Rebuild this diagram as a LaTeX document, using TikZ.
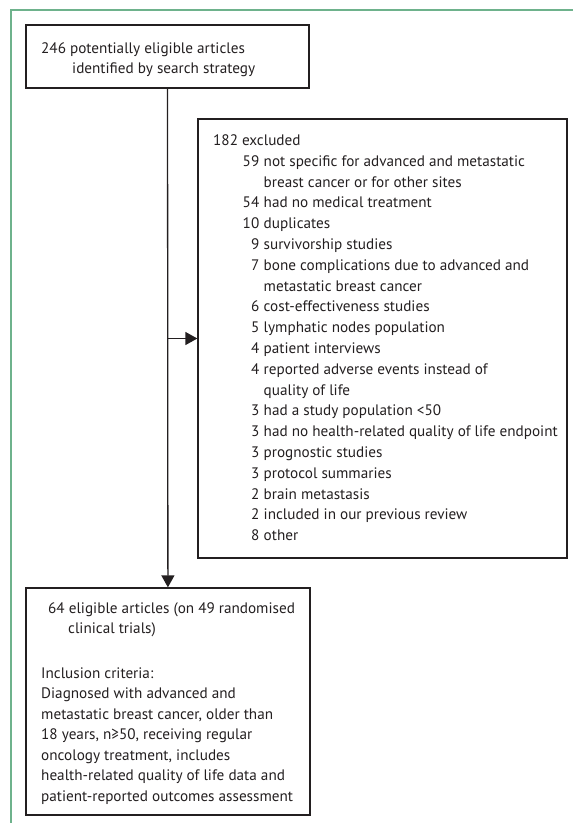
\documentclass[tikz,border=0pt]{standalone}
\usepackage{fontspec}
\setmainfont{PT Sans}
\usetikzlibrary{arrows.meta}
\definecolor{frame}{RGB}{110,178,140}
\definecolor{ink}{RGB}{35,31,32}
\begin{document}
\begin{tikzpicture}[x=1pt,y=-1pt,
  box/.style={draw=ink,line width=1.3pt,inner sep=0pt},
  txt/.style={inner sep=0pt,text=ink,font=\fontsize{15.2}{18}\selectfont},
  conn/.style={draw=ink,line width=1.3pt,-{Triangle[length=12pt,width=13pt]}}]
\useasboundingbox (0,0) rectangle (573,823);
\draw[frame,line width=1.8pt] (11,823) -- (11,10) -- (573,10);
% boxes
\node[box,minimum width=283,minimum height=63] (b1) at (167.5,56.5) {};
\node[box,minimum width=369,minimum height=439] (b2) at (382.5,338.5) {};
\node[box,minimum width=284,minimum height=227] (b3) at (168,701.5) {};
% box 1 text
\node[txt,anchor=base west] (a1) at (41,53) {246 potentially eligible articles};
\node[txt,anchor=base west] (a2) at (72,73) {identified by search strategy};
% box 2 text
\node[txt,anchor=base west] (x0) at (213,145.5) {182 excluded};
\foreach \k/\n/\t in {
 1/59/{not specific for advanced and metastatic},
 2//{breast cancer or for other sites},
 3/54/{had no medical treatment},
 4/10/{duplicates},
 5/9/{survivorship studies},
 6/7/{bone complications due to advanced and},
 7//{metastatic breast cancer},
 8/6/{cost-effectiveness studies},
 9/5/{lymphatic nodes population},
 10/4/{patient interviews},
 11/4/{reported adverse events instead of},
 12//{quality of life},
 13/3/{had a study population <50},
 14/3/{had no health-related quality of life endpoint},
 15/3/{prognostic studies},
 16/3/{protocol summaries},
 17/2/{brain metastasis},
 18/2/{included in our previous review},
 19/8/{other}}{
  \node[txt,anchor=base east] (n\k) at (259.5,145.5+20.8*\k) {\n};
  \node[txt,anchor=base west] (t\k) at (263.5,145.5+20.8*\k) {\t};
}
% box 3 text
\node[txt,anchor=base west] (c1) at (48,613) {64 eligible articles (on 49 randomised};
\node[txt,anchor=base west] (c2) at (68,633) {clinical trials)};
\foreach \k/\t in {
 0/{Inclusion criteria:},
 1/{Diagnosed with advanced and},
 2/{metastatic breast cancer, older than},
 3/{18 years, n≥50, receiving regular},
 4/{oncology treatment, includes},
 5/{health-related quality of life data and},
 6/{patient-reported outcomes assessment}}{
  \node[txt,anchor=base west] (i\k) at (41,678+20.5*\k) {\t};
}
% connectors
\draw[conn] (b1) -- (b3);
\draw[conn] (b1.south |- b2.west) -- (b2.west);
\end{tikzpicture}
\end{document}
